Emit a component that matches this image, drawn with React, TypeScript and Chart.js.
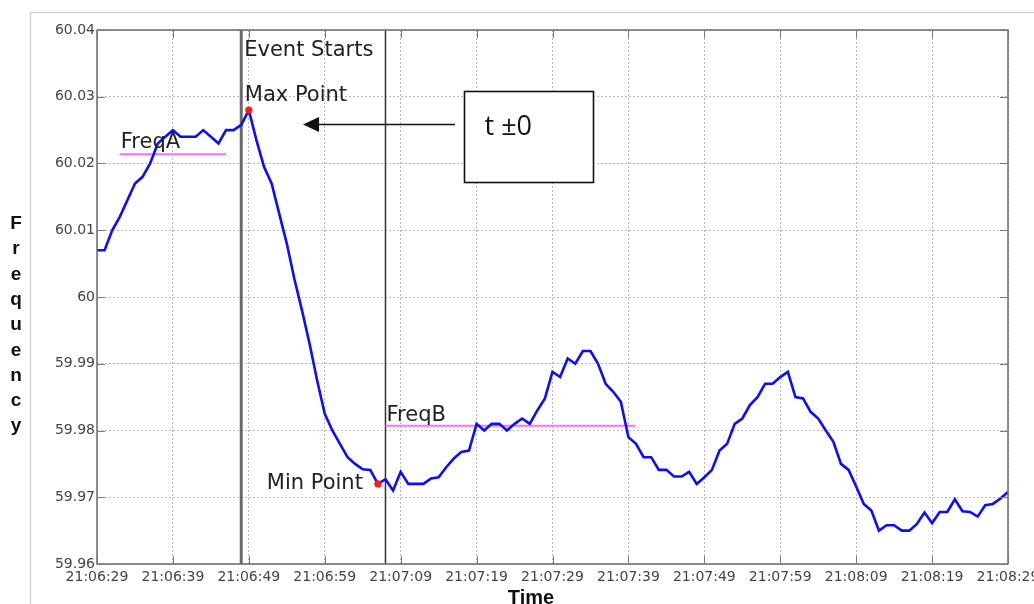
import React, { useEffect, useRef } from 'react';
import { Chart, registerables } from 'chart.js';

Chart.register(...registerables);

// One sample per second starting at 21:06:29
const frequency: number[] = [
  60.007, 60.007, 60.010, 60.012, 60.0145, 60.017, 60.018, 60.020, 60.023, 60.024,
  60.025, 60.024, 60.024, 60.024, 60.025, 60.024, 60.023, 60.025, 60.025, 60.0258,
  60.028, 60.0235, 60.0195, 60.017, 60.0125, 60.008, 60.0027, 59.998, 59.993, 59.9875,
  59.9825, 59.980, 59.978, 59.976, 59.975, 59.9742, 59.9741, 59.972, 59.9727, 59.971,
  59.9738, 59.972, 59.972, 59.972, 59.9728, 59.973, 59.9745, 59.9758, 59.9768, 59.977,
  59.981, 59.980, 59.981, 59.981, 59.980, 59.981, 59.9818, 59.981, 59.983, 59.9848,
  59.9888, 59.988, 59.9908, 59.990, 59.9919, 59.9919, 59.990, 59.987, 59.9858, 59.9843,
  59.979, 59.978, 59.976, 59.976, 59.9741, 59.9741, 59.9731, 59.9731, 59.9738, 59.972,
  59.973, 59.9741, 59.977, 59.978, 59.981, 59.9818, 59.9838, 59.985, 59.987, 59.987,
  59.988, 59.9888, 59.985, 59.9848, 59.9828, 59.9818, 59.980, 59.9783, 59.975, 59.9741,
  59.9716, 59.969, 59.968, 59.965, 59.9658, 59.9658, 59.965, 59.965, 59.966, 59.9677,
  59.9661, 59.9678, 59.9678, 59.9697, 59.9679, 59.9678, 59.9671, 59.9688, 59.969, 59.9698,
  59.9708,
];

const xTickLabels: string[] = [
  '21:06:29', '21:06:39', '21:06:49', '21:06:59', '21:07:09', '21:07:19', '21:07:29',
  '21:07:39', '21:07:49', '21:07:59', '21:08:09', '21:08:19', '21:08:29',
];
const xRange = [0, 120];
const yRange = [59.96, 60.04];

const eventStartSec = 19;
const secondMarkerSec = 38;
const maxPoint = { x: 20, y: 60.028 };
const minPoint = { x: 37, y: 59.972 };
const freqA = { start: 3, end: 17, value: 60.0214 };
const freqB = { start: 38, end: 70.9, value: 59.9807 };
const calloutText = 't ±0';
const yTitle = 'Frequency';
const xTitle = 'Time';

const FONT = "'DejaVu Sans'";

const overlay = {
  id: 'overlay',
  beforeDraw(chart: any) {
    const { ctx } = chart;
    ctx.save();
    ctx.fillStyle = '#ffffff';
    ctx.fillRect(0, 0, chart.width, chart.height);
    ctx.strokeStyle = '#d2d2d2';
    ctx.lineWidth = 1.5;
    ctx.beginPath();
    ctx.moveTo(30.5, chart.height);
    ctx.lineTo(30.5, 12.5);
    ctx.lineTo(chart.width, 12.5);
    ctx.stroke();
    ctx.restore();
  },
  afterDatasetsDraw(chart: any) {
    const { ctx, chartArea: a } = chart;
    const x = chart.scales.x;
    const y = chart.scales.y;
    ctx.save();
    // frame
    ctx.strokeStyle = '#6a6a6a';
    ctx.lineWidth = 1.5;
    ctx.strokeRect(a.left, a.top, a.right - a.left, a.bottom - a.top);
    // inner tick marks
    ctx.strokeStyle = '#7a7a7a';
    ctx.lineWidth = 1;
    ctx.beginPath();
    x.ticks.forEach((t: any) => {
      const px = Math.round(x.getPixelForValue(t.value)) + 0.5;
      ctx.moveTo(px, a.bottom); ctx.lineTo(px, a.bottom - 8);
      ctx.moveTo(px, a.top); ctx.lineTo(px, a.top + 8);
    });
    y.ticks.forEach((t: any) => {
      const py = Math.round(y.getPixelForValue(t.value)) + 0.5;
      ctx.moveTo(a.left, py); ctx.lineTo(a.left + 8, py);
      ctx.moveTo(a.right, py); ctx.lineTo(a.right - 8, py);
    });
    ctx.stroke();

    // annotation texts
    ctx.fillStyle = '#222222';
    ctx.font = `21px ${FONT}`;
    ctx.textBaseline = 'alphabetic';
    ctx.textAlign = 'left';
    const ex = x.getPixelForValue(eventStartSec);
    ctx.fillText('Event Starts', ex + 3, a.top + 26);
    const mx = x.getPixelForValue(maxPoint.x);
    const my = y.getPixelForValue(maxPoint.y);
    ctx.fillText('Max Point', mx - 4, my - 9);
    ctx.fillText('FreqA', x.getPixelForValue(freqA.start) + 1, y.getPixelForValue(freqA.value) - 6);
    ctx.fillText('FreqB', x.getPixelForValue(freqB.start) + 1, y.getPixelForValue(freqB.value) - 5);
    const nx = x.getPixelForValue(minPoint.x);
    const ny = y.getPixelForValue(minPoint.y);
    ctx.textAlign = 'right';
    ctx.fillText('Min Point', nx - 15, ny + 5.5);

    // callout box
    const bl = Math.round(x.getPixelForValue(48.28)) + 0.5;
    const br = Math.round(x.getPixelForValue(65.27)) + 0.5;
    const bt = Math.round(y.getPixelForValue(60.0309)) + 0.5;
    const bb = Math.round(y.getPixelForValue(60.0172)) + 0.5;
    ctx.fillStyle = '#ffffff';
    ctx.fillRect(bl, bt, br - bl, bb - bt);
    ctx.strokeStyle = '#111111';
    ctx.lineWidth = 1.6;
    ctx.strokeRect(bl, bt, br - bl, bb - bt);
    ctx.fillStyle = '#111111';
    ctx.textAlign = 'left';
    ctx.font = `27px 'Open Sans'`;
    ctx.fillText(calloutText, bl + 20, bt + 43);

    // arrow
    const ay = Math.round(y.getPixelForValue(60.0259)) + 0.5;
    const ax0 = x.getPixelForValue(47.16);
    const ax1 = x.getPixelForValue(27.14);
    ctx.strokeStyle = '#111111';
    ctx.lineWidth = 1.5;
    ctx.beginPath();
    ctx.moveTo(ax0, ay);
    ctx.lineTo(ax1 + 12, ay);
    ctx.stroke();
    ctx.beginPath();
    ctx.moveTo(ax1, ay);
    ctx.lineTo(ax1 + 16, ay - 7.5);
    ctx.lineTo(ax1 + 16, ay + 7.5);
    ctx.closePath();
    ctx.fill();

    // axis titles
    ctx.fillStyle = '#111111';
    ctx.font = `bold 19px 'Liberation Sans'`;
    ctx.textAlign = 'center';
    for (let i = 0; i < yTitle.length; i++) {
      ctx.fillText(yTitle[i], 16, 229 + 25.3 * i);
    }
    ctx.font = `bold 20px 'Liberation Sans'`;
    ctx.fillText(xTitle, 531, 604);
    ctx.restore();
  },
};

export default function App() {
  const ref = useRef<HTMLCanvasElement>(null);
  useEffect(() => {
    const lineData = frequency.map((v, i) => ({ x: i, y: v }));
    const chart = new Chart(ref.current as HTMLCanvasElement, {
      type: 'line',
      data: {
        datasets: [
          {
            label: 'Max',
            data: [maxPoint],
            showLine: false,
            pointRadius: 3.6,
            pointBackgroundColor: '#ff1a1a',
            pointBorderWidth: 0,
            order: 0,
          },
          {
            label: 'Min',
            data: [minPoint],
            showLine: false,
            pointRadius: 3.6,
            pointBackgroundColor: '#ff1a1a',
            pointBorderWidth: 0,
            order: 0,
          },
          {
            label: 'Frequency',
            data: lineData,
            borderColor: '#0c0cff',
            borderWidth: 2.6,
            pointRadius: 0,
            tension: 0,
            order: 1,
          },
          {
            label: 'FreqA',
            data: [{ x: freqA.start, y: freqA.value }, { x: freqA.end, y: freqA.value }],
            borderColor: '#ff70ff',
            borderWidth: 2,
            pointRadius: 0,
            order: 2,
          },
          {
            label: 'FreqB',
            data: [{ x: freqB.start, y: freqB.value }, { x: freqB.end, y: freqB.value }],
            borderColor: '#ff70ff',
            borderWidth: 2,
            pointRadius: 0,
            order: 2,
          },
          {
            label: 'Event',
            data: [{ x: eventStartSec, y: yRange[0] }, { x: eventStartSec, y: yRange[1] }],
            borderColor: '#6a6a6a',
            borderWidth: 3,
            pointRadius: 0,
            order: 3,
          },
          {
            label: 'Marker',
            data: [{ x: secondMarkerSec, y: yRange[0] }, { x: secondMarkerSec, y: yRange[1] }],
            borderColor: '#333333',
            borderWidth: 1.5,
            pointRadius: 0,
            order: 3,
          },
        ],
      },
      options: {
        animation: false,
        responsive: false,
        maintainAspectRatio: false,
        layout: { autoPadding: false, padding: { top: 30, right: 26, left: 0, bottom: 0 } },
        plugins: { legend: { display: false }, tooltip: { enabled: false } },
        scales: {
          x: {
            type: 'linear',
            min: xRange[0],
            max: xRange[1],
            ticks: {
              stepSize: 10,
              autoSkip: false,
              maxRotation: 0,
              padding: 5,
              color: '#444444',
              font: { family: 'DejaVu Sans', size: 14 },
              callback: (v: any) => xTickLabels[Math.round(Number(v) / 10)] ?? '',
            },
            grid: { color: '#b8b8b8', lineWidth: 1, drawTicks: false },
            border: { display: false, dash: [2, 2] },
            afterFit: (s: any) => {
              s.height = 40;
              s.paddingLeft = 0;
              s.paddingRight = 0;
            },
          },
          y: {
            type: 'linear',
            min: yRange[0],
            max: yRange[1],
            ticks: {
              stepSize: 0.01,
              padding: 2,
              color: '#444444',
              font: { family: 'DejaVu Sans', size: 14 },
              callback: (v: any) => String(Number(Number(v).toFixed(2))),
            },
            grid: { color: '#b8b8b8', lineWidth: 1, drawTicks: false },
            border: { display: false, dash: [2, 2] },
            afterFit: (s: any) => {
              s.width = 97;
              s.paddingTop = 0;
              s.paddingBottom = 0;
            },
          },
        },
      },
      plugins: [overlay],
    } as any);
    return () => chart.destroy();
  }, []);
  return (
    <div style={{ position: 'absolute', left: 0, top: 0, width: 1034, height: 604, background: '#fff' }}>
      <canvas ref={ref} width={1034} height={604} style={{ display: 'block', width: 1034, height: 604 }} />
    </div>
  );
}
